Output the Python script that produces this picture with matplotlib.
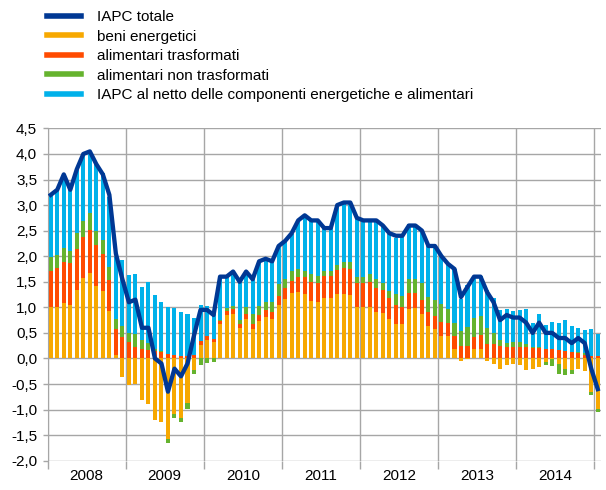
import numpy as np
import matplotlib
matplotlib.use('Agg')
import matplotlib.pyplot as plt
from matplotlib.lines import Line2D
from matplotlib.ticker import FuncFormatter

plt.rcParams['font.family'] = ['Liberation Sans', 'DejaVu Sans']

# monthly data, Jan 2008 - Jan 2015 (contributions, percentage points)
anni = ['2008', '2009', '2010', '2011', '2012', '2013', '2014']

iapc_totale = [3.2, 3.3, 3.6, 3.3, 3.7, 4.0, 4.05, 3.8, 3.6, 3.2, 2.05, 1.55,
               1.1, 1.15, 0.6, 0.6, 0.0, -0.1, -0.65, -0.2, -0.35, -0.1, 0.45, 0.95,
               0.95, 0.85, 1.6, 1.6, 1.7, 1.5, 1.7, 1.55, 1.9, 1.95, 1.9, 2.2,
               2.3, 2.45, 2.7, 2.8, 2.7, 2.7, 2.55, 2.55, 3.0, 3.05, 3.05, 2.75,
               2.7, 2.7, 2.7, 2.6, 2.45, 2.4, 2.4, 2.6, 2.6, 2.5, 2.2, 2.2,
               2.0, 1.85, 1.75, 1.2, 1.4, 1.6, 1.6, 1.3, 1.1, 0.75, 0.85, 0.8,
               0.8, 0.7, 0.5, 0.7, 0.5, 0.5, 0.4, 0.4, 0.3, 0.4, 0.3, -0.2,
               -0.6]

beni_energetici = [1.01, 1.00, 1.09, 1.04, 1.34, 1.57, 1.67, 1.42, 1.32, 0.93, 0.07, -0.36,
                   -0.52, -0.49, -0.82, -0.89, -1.21, -1.24, -1.57, -1.08, -1.16, -0.88, -0.23, 0.27,
                   0.37, 0.33, 0.68, 0.85, 0.87, 0.59, 0.77, 0.58, 0.73, 0.81, 0.77, 1.04,
                   1.17, 1.29, 1.30, 1.26, 1.13, 1.10, 1.19, 1.18, 1.26, 1.26, 1.25, 1.00,
                   1.00, 1.01, 0.91, 0.89, 0.78, 0.67, 0.67, 0.97, 0.99, 0.87, 0.63, 0.58,
                   0.44, 0.44, 0.18, -0.05, -0.02, 0.18, 0.18, -0.05, -0.11, -0.20, -0.12, -0.10,
                   -0.13, -0.23, -0.21, -0.16, -0.07, -0.02, -0.10, -0.20, -0.23, -0.20, -0.25, -0.66,
                   -0.98]

alim_trasformati = [0.71, 0.77, 0.79, 0.83, 0.80, 0.81, 0.85, 0.80, 0.72, 0.60, 0.50, 0.41,
                    0.33, 0.23, 0.18, 0.16, 0.15, 0.13, 0.08, 0.07, 0.05, 0.04, 0.06, 0.07,
                    0.07, 0.05, 0.06, 0.08, 0.10, 0.09, 0.09, 0.10, 0.12, 0.13, 0.14, 0.19,
                    0.21, 0.22, 0.29, 0.33, 0.37, 0.37, 0.43, 0.44, 0.47, 0.50, 0.50, 0.48,
                    0.47, 0.49, 0.47, 0.45, 0.41, 0.37, 0.34, 0.32, 0.30, 0.28, 0.28, 0.26,
                    0.27, 0.26, 0.26, 0.24, 0.24, 0.24, 0.28, 0.29, 0.28, 0.24, 0.23, 0.23,
                    0.22, 0.22, 0.20, 0.20, 0.19, 0.18, 0.17, 0.14, 0.12, 0.10, 0.07, 0.05,
                    0.04]

alim_non_trasformati = [0.26, 0.25, 0.29, 0.23, 0.31, 0.31, 0.33, 0.27, 0.28, 0.26, 0.21, 0.22,
                        0.16, 0.25, 0.18, 0.15, 0.03, 0.01, -0.08, -0.08, -0.08, -0.10, -0.08, -0.12,
                        -0.09, -0.07, 0.02, 0.06, 0.05, 0.08, 0.15, 0.19, 0.17, 0.17, 0.20, 0.22,
                        0.17, 0.21, 0.15, 0.12, 0.16, 0.15, 0.09, 0.09, 0.09, 0.13, 0.14, 0.12,
                        0.12, 0.16, 0.17, 0.13, 0.13, 0.22, 0.22, 0.26, 0.26, 0.32, 0.30, 0.31,
                        0.35, 0.26, 0.26, 0.30, 0.37, 0.38, 0.37, 0.31, 0.21, 0.12, 0.07, 0.09,
                        0.10, 0.07, 0.02, 0.02, -0.05, -0.12, -0.20, -0.13, -0.07, 0.02, 0.03, -0.06,
                        -0.06]

iapc_netto = [1.22, 1.26, 1.39, 1.20, 1.24, 1.29, 1.20, 1.33, 1.30, 1.37, 1.20, 1.30,
              1.15, 1.17, 1.04, 1.19, 1.07, 0.97, 0.92, 0.92, 0.86, 0.82, 0.74, 0.70,
              0.58, 0.55, 0.85, 0.65, 0.64, 0.77, 0.71, 0.69, 0.86, 0.82, 0.79, 0.77,
              0.75, 0.71, 0.97, 1.08, 1.07, 1.06, 0.86, 0.87, 1.14, 1.14, 1.14, 1.14,
              1.08, 1.05, 1.12, 1.14, 1.11, 1.09, 1.20, 1.08, 1.08, 1.04, 0.98, 1.05,
              0.94, 0.91, 1.05, 0.63, 0.83, 0.82, 0.78, 0.74, 0.69, 0.58, 0.67, 0.61,
              0.63, 0.67, 0.48, 0.64, 0.46, 0.54, 0.52, 0.62, 0.51, 0.48, 0.46, 0.52,
              0.43]

serie = [
    (beni_energetici, '#f7a800', 'beni energetici'),
    (alim_trasformati, '#ff4b00', 'alimentari trasformati'),
    (alim_non_trasformati, '#65b32e', 'alimentari non trasformati'),
    (iapc_netto, '#00b1ea', 'IAPC al netto delle componenti energetiche e alimentari'),
]
blu = '#003894'
grigio = '#a6a6a6'

x = np.arange(len(iapc_totale))

fig = plt.figure(figsize=(6.06, 4.9), dpi=100)
ax = fig.add_axes([47.5 / 606, 1 - 460.7 / 490, (601 - 47.5) / 606, (460.7 - 128.4) / 490])

base_pos = np.zeros(len(x))
base_neg = np.zeros(len(x))
for valori, colore, nome in serie:
    v = np.array(valori)
    pos = np.where(v > 0, v, 0)
    neg = np.where(v < 0, v, 0)
    ax.bar(x, pos, 0.62, bottom=base_pos, color=colore, linewidth=0, zorder=2)
    ax.bar(x, neg, 0.62, bottom=base_neg, color=colore, linewidth=0, zorder=2)
    base_pos += pos
    base_neg += neg

ax.plot(x, iapc_totale, color=blu, lw=3.1, zorder=3, solid_joinstyle='round')

ax.set_xlim(-0.5, len(x) - 0.5)
ax.set_ylim(-2.0, 4.5)
ax.set_yticks(np.arange(-2.0, 4.51, 0.5))
ax.yaxis.set_major_formatter(FuncFormatter(lambda v, p: f'{v:.1f}'.replace('.', ',')))
ax.grid(axis='y', color=grigio, lw=1.0)

# year separators and labels
ax.set_xticks(np.arange(-0.5, len(x), 12), minor=True)
ax.set_xticks(np.arange(5.5, 84, 12))
ax.set_xticklabels(anni)
ax.grid(axis='x', which='minor', color=grigio, lw=1.0)
ax.tick_params(axis='x', which='major', length=0, pad=6, labelsize=11)
ax.tick_params(axis='x', which='minor', length=5.5, color=grigio, width=1.0)
ax.tick_params(axis='y', length=3.5, color=grigio, width=1.0, pad=4, labelsize=11)
ax.set_axisbelow(True)
for s in ['top', 'right', 'bottom']:
    ax.spines[s].set_visible(False)
ax.spines['left'].set_color(grigio)

handles = [Line2D([], [], color=blu, lw=4)] + [Line2D([], [], color=c, lw=4) for _, c, _ in serie]
labels = ['IAPC totale'] + [n for _, _, n in serie]
fig.legend(handles, labels, loc='upper left', bbox_to_anchor=(47 / 606, 1 - 10 / 490),
           frameon=False, fontsize=11, borderpad=0, borderaxespad=0,
           handlelength=2.2, handletextpad=1.1, labelspacing=0.36)

fig.savefig('out.png', dpi=100)
